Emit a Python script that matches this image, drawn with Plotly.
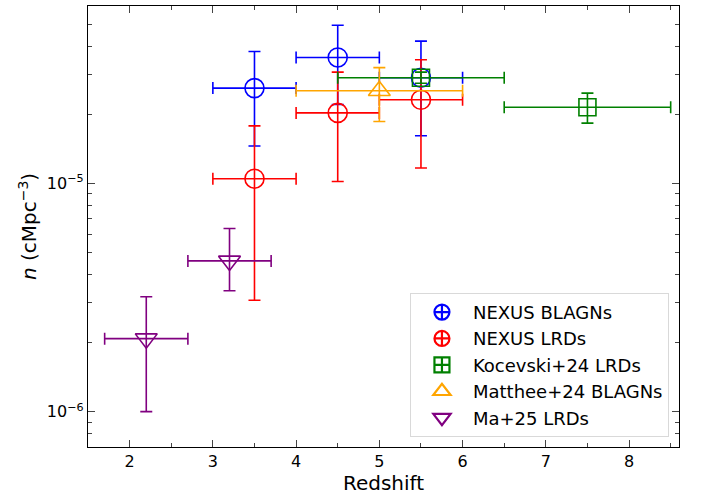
import plotly.graph_objects as go

# ---- data ----
blagn_z = [3.5, 4.5, 5.5]
blagn_zlo = [3.0, 4.0, 5.0]
blagn_zhi = [4.0, 5.0, 6.0]
blagn_n = [2.62e-5, 3.57e-5, 2.91e-5]
blagn_nlo = [1.46e-5, 2.22e-5, 1.62e-5]
blagn_nhi = [3.79e-5, 4.94e-5, 4.21e-5]

lrd_z = [3.5, 4.5, 5.5]
lrd_zlo = [3.0, 4.0, 5.0]
lrd_zhi = [4.0, 5.0, 6.0]
lrd_n = [1.05e-5, 2.04e-5, 2.33e-5]
lrd_nlo = [3.08e-6, 1.02e-5, 1.17e-5]
lrd_nhi = [1.79e-5, 3.08e-5, 3.49e-5]

koc_z = [5.5, 7.5]
koc_zlo = [4.5, 6.5]
koc_zhi = [6.5, 8.5]
koc_n = [2.91e-5, 2.16e-5]
koc_nlo = [2.75e-5, 1.84e-5]
koc_nhi = [3.08e-5, 2.49e-5]

mat_z = [5.0]
mat_zlo = [4.0]
mat_zhi = [6.0]
mat_n = [2.55e-5]
mat_nlo = [1.87e-5]
mat_nhi = [3.22e-5]

ma_z = [2.2, 3.2]
ma_zlo = [1.7, 2.7]
ma_zhi = [2.7, 3.7]
ma_n = [2.09e-6, 4.58e-6]
ma_nlo = [1.00e-6, 3.39e-6]
ma_nhi = [3.19e-6, 6.35e-6]

series = [
    ("NEXUS BLAGNs", "blue", "circle-open", "circle-cross-open", blagn_z, blagn_zlo, blagn_zhi, blagn_n, blagn_nlo, blagn_nhi, 19),
    ("NEXUS LRDs", "red", "circle-open", "circle-cross-open", lrd_z, lrd_zlo, lrd_zhi, lrd_n, lrd_nlo, lrd_nhi, 19),
    ("Kocevski+24 LRDs", "green", "square-open", "square-cross-open", koc_z, koc_zlo, koc_zhi, koc_n, koc_nlo, koc_nhi, 17),
    ("Matthee+24 BLAGNs", "orange", "triangle-up-open", "triangle-up-open", mat_z, mat_zlo, mat_zhi, mat_n, mat_nlo, mat_nhi, 19),
    ("Ma+25 LRDs", "purple", "triangle-down-open", "triangle-down-open", ma_z, ma_zlo, ma_zhi, ma_n, ma_nlo, ma_nhi, 19),
]

fig = go.Figure()
for i, (name, col, sym, lsym, z, zlo, zhi, n, nlo, nhi, ms) in enumerate(series):
    fig.add_trace(go.Scatter(
        x=z, y=n, mode="markers", showlegend=False,
        marker=dict(symbol=sym, size=ms, color=col, line=dict(width=1.6, color=col)),
        error_x=dict(type="data", symmetric=False,
                     array=[b - a for a, b in zip(z, zhi)],
                     arrayminus=[a - b for a, b in zip(z, zlo)],
                     color=col, thickness=1.6, width=6),
        error_y=dict(type="data", symmetric=False,
                     array=[b - a for a, b in zip(n, nhi)],
                     arrayminus=[a - b for a, b in zip(n, nlo)],
                     color=col, thickness=1.6, width=6),
    ))
    fig.add_trace(go.Scatter(
        x=[None], y=[None], mode="markers", name=name, legendgroup=f"g{i}",
        marker=dict(symbol=lsym, size=15, color=col, line=dict(width=2.2, color=col)),
    ))

minor_y = [v * 10.0 ** e for e in (-7, -6, -5) for v in range(2, 10)]
minor_y = [v for v in minor_y if 7e-7 <= v <= 6e-5]

fig.update_layout(
    width=706, height=497,
    margin=dict(l=88, r=27, t=6, b=50),
    paper_bgcolor="white", plot_bgcolor="white",
    font=dict(family="DejaVu Sans", size=16, color="black"),
    legend=dict(x=0.983, y=0.023, xanchor="right", yanchor="bottom",
                bordercolor="#d9d9d9", borderwidth=1, bgcolor="white",
                font=dict(size=18), tracegroupgap=0, traceorder="grouped",
                itemwidth=52),
    xaxis=dict(range=[1.5, 8.6], showline=True, linecolor="black", linewidth=1.2,
               mirror="allticks", ticks="inside", ticklen=7, tickwidth=1.2,
               tickvals=[2, 3, 4, 5, 6, 7, 8], showgrid=False, zeroline=False,
               minor=dict(ticks="inside", ticklen=4, tickwidth=1, tickvals=[1.5, 2.5, 3.5, 4.5, 5.5, 6.5, 7.5, 8.5]),
               title=dict(text="Redshift", font=dict(size=20), standoff=4)),
    yaxis=dict(type="log", range=[-6.1549, -4.2218], showline=True, linecolor="black", linewidth=1.2,
               mirror="allticks", ticks="inside", ticklen=7, tickwidth=1.2,
               tickvals=[1e-6, 1e-5], ticktext=["10<sup>−6</sup>", "10<sup>−5</sup>"],
               showgrid=False, zeroline=False,
               minor=dict(ticks="inside", ticklen=4, tickwidth=1, tickvals=minor_y),
               title=dict(text="<i>n</i> (cMpc<sup>−3</sup>)", font=dict(size=20), standoff=4)),
)

fig.write_html("out.html")
